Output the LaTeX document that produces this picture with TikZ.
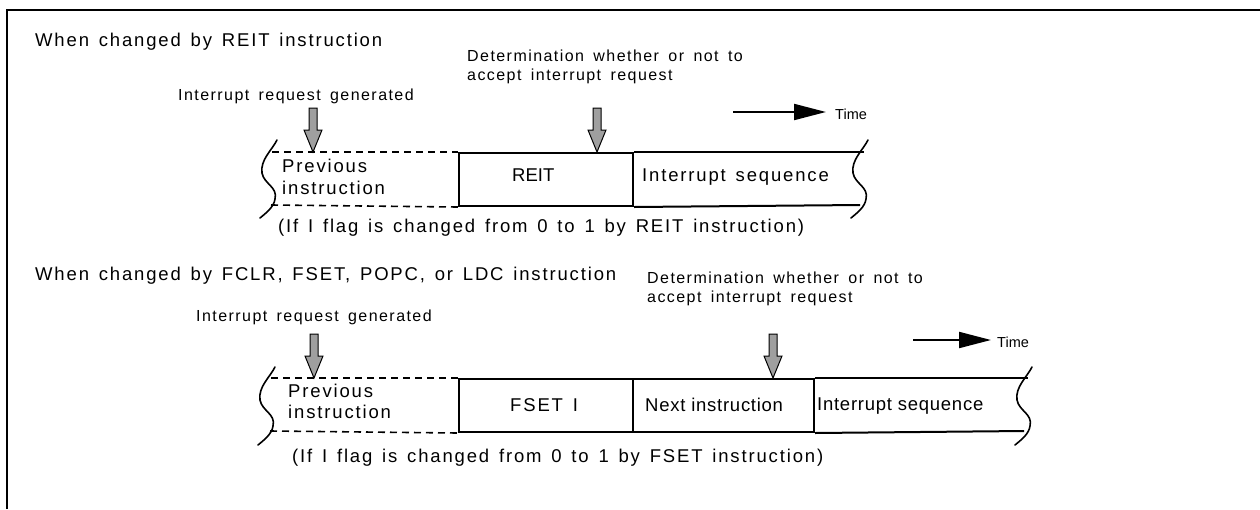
\documentclass[tikz,border=0pt]{standalone}
\usepackage{fontspec}
\setmainfont{Liberation Sans}
\newfontfamily\spacedbig{Liberation Sans}[LetterSpace=10,WordSpace=1.4]
\newfontfamily\spacedmid{Liberation Sans}[LetterSpace=4]
\newfontfamily\spacedsmall{Liberation Sans}[LetterSpace=9,WordSpace=1.6]
\usetikzlibrary{arrows.meta}
\tikzset{
  bigtxt/.style={font=\spacedbig\fontsize{18.5}{20}\selectfont, inner sep=0pt, anchor=base west},
  midtxt/.style={font=\spacedmid\fontsize{18.5}{20}\selectfont, inner sep=0pt, anchor=base west},
  smalltxt/.style={font=\spacedsmall\fontsize{16}{20}\selectfont, inner sep=0pt, anchor=base west, align=left},
  tighttxt/.style={font=\fontsize{18.5}{20}\selectfont, inner sep=0pt, anchor=base west},
  timetxt/.style={font=\fontsize{14.5}{16}\selectfont, inner sep=0pt, anchor=base west},
  cellbox/.style={draw, line width=2pt, inner sep=0pt, anchor=north west},
  boxline/.style={line width=2pt},
  dashline/.style={line width=1.6pt, dash pattern=on 7pt off 5pt},
  timearrow/.style={line width=2pt, -{Triangle[length=32pt,width=16pt]}},
  garrow/.pic={\draw[fill=gray!75, line width=1pt, line join=miter]
     (-4,-44) -- (4,-44) -- (4,-22) -- (9,-22) -- (0,0) -- (-9,-22) -- (-4,-22) -- cycle;},
  wave/.pic={\draw[line width=1.6pt, line cap=round]
     (0,0) .. controls (-5,10) and (-17,20) .. (-15,33)
           .. controls (-13,44) and (1,47) .. (-2,59)
           .. controls (-3,67) and (-11,73) .. (-17,78);}
}
\begin{document}
\begin{tikzpicture}[x=1pt,y=-1pt]
\useasboundingbox (0,0) rectangle (1260,509);
% frame
\draw[line width=2.5pt] (7,509) -- (7,10) -- (1260,10);

% ================= top section =================
\node[bigtxt] (title1) at (35,46) {When changed by REIT instruction};
\node[smalltxt] (irq1) at (178,100) {Interrupt request generated};
\node[smalltxt] (det1) at (467,80) {Determination whether or not to\\[-1pt]accept interrupt request};

\node[cellbox, minimum width=174pt, minimum height=53pt] (reit) at (458,152) {};
\node[tighttxt] (reittxt) at (512,181) {REIT};
\node[bigtxt] (seq1) at (642,181) {Interrupt sequence};
\node[bigtxt] (prev1a) at (282,172) {Previous};
\node[bigtxt] (prev1b) at (282,194) {instruction};
\node[bigtxt] (note1) at (278,232) {(If I flag is changed from 0 to 1 by REIT instruction)};

\coordinate (l1t) at (272,152);
\coordinate (l1b) at (271,205);
\coordinate (r1t) at (864,152);
\coordinate (r1b) at (860,205);
\draw[dashline] (l1t) -- (reit.north west);
\draw[dashline] (l1b) -- (reit.south west);
\draw[boxline] (reit.north east) -- (r1t);
\draw[boxline] (reit.south east) -- (r1b);
\pic at (277,140) {wave};
\pic at (868,140) {wave};

\coordinate (a1) at (313,152);
\coordinate (a2) at (597,152);
\pic at (a1) {garrow};
\pic at (a2) {garrow};

\coordinate (ts1) at (733,112);
\coordinate (te1) at (826,112);
\draw[timearrow] (ts1) -- (te1);
\node[timetxt] (time1) at (835,119) {Time};

% ================= bottom section =================
\node[bigtxt] (title2) at (35,280) {When changed by FCLR, FSET, POPC, or LDC instruction};
\node[smalltxt] (irq2) at (196,321) {Interrupt request generated};
\node[smalltxt] (det2) at (647,302) {Determination whether or not to\\[-1pt]accept interrupt request};

\node[cellbox, minimum width=174pt, minimum height=53pt] (fset) at (458,378) {};
\node[cellbox, minimum width=181pt, minimum height=53pt] (next) at (632,378) {};
\node[bigtxt] (fsettxt) at (510,411) {FSET I};
\node[midtxt] (nexttxt) at (645,411) {Next instruction};
\node[midtxt] (seq2) at (817,410) {Interrupt sequence};
\node[bigtxt] (prev2a) at (288,397) {Previous};
\node[bigtxt] (prev2b) at (288,418) {instruction};
\node[bigtxt] (note2) at (292,462) {(If I flag is changed from 0 to 1 by FSET instruction)};

\coordinate (l2t) at (271,378);
\coordinate (l2b) at (270,431);
\coordinate (r2t) at (1028,378);
\coordinate (r2b) at (1024,431);
\draw[dashline] (l2t) -- (fset.north west);
\draw[dashline] (l2b) -- (fset.south west);
\draw[boxline] (next.north east) -- (r2t);
\draw[boxline] (next.south east) -- (r2b);
\pic at (275,367) {wave};
\pic at (1032,367) {wave};

\coordinate (a3) at (314,378);
\coordinate (a4) at (773,378);
\pic at (a3) {garrow};
\pic at (a4) {garrow};

\coordinate (ts2) at (913,340);
\coordinate (te2) at (991,340);
\draw[timearrow] (ts2) -- (te2);
\node[timetxt] (time2) at (997,347) {Time};
\end{tikzpicture}
\end{document}
